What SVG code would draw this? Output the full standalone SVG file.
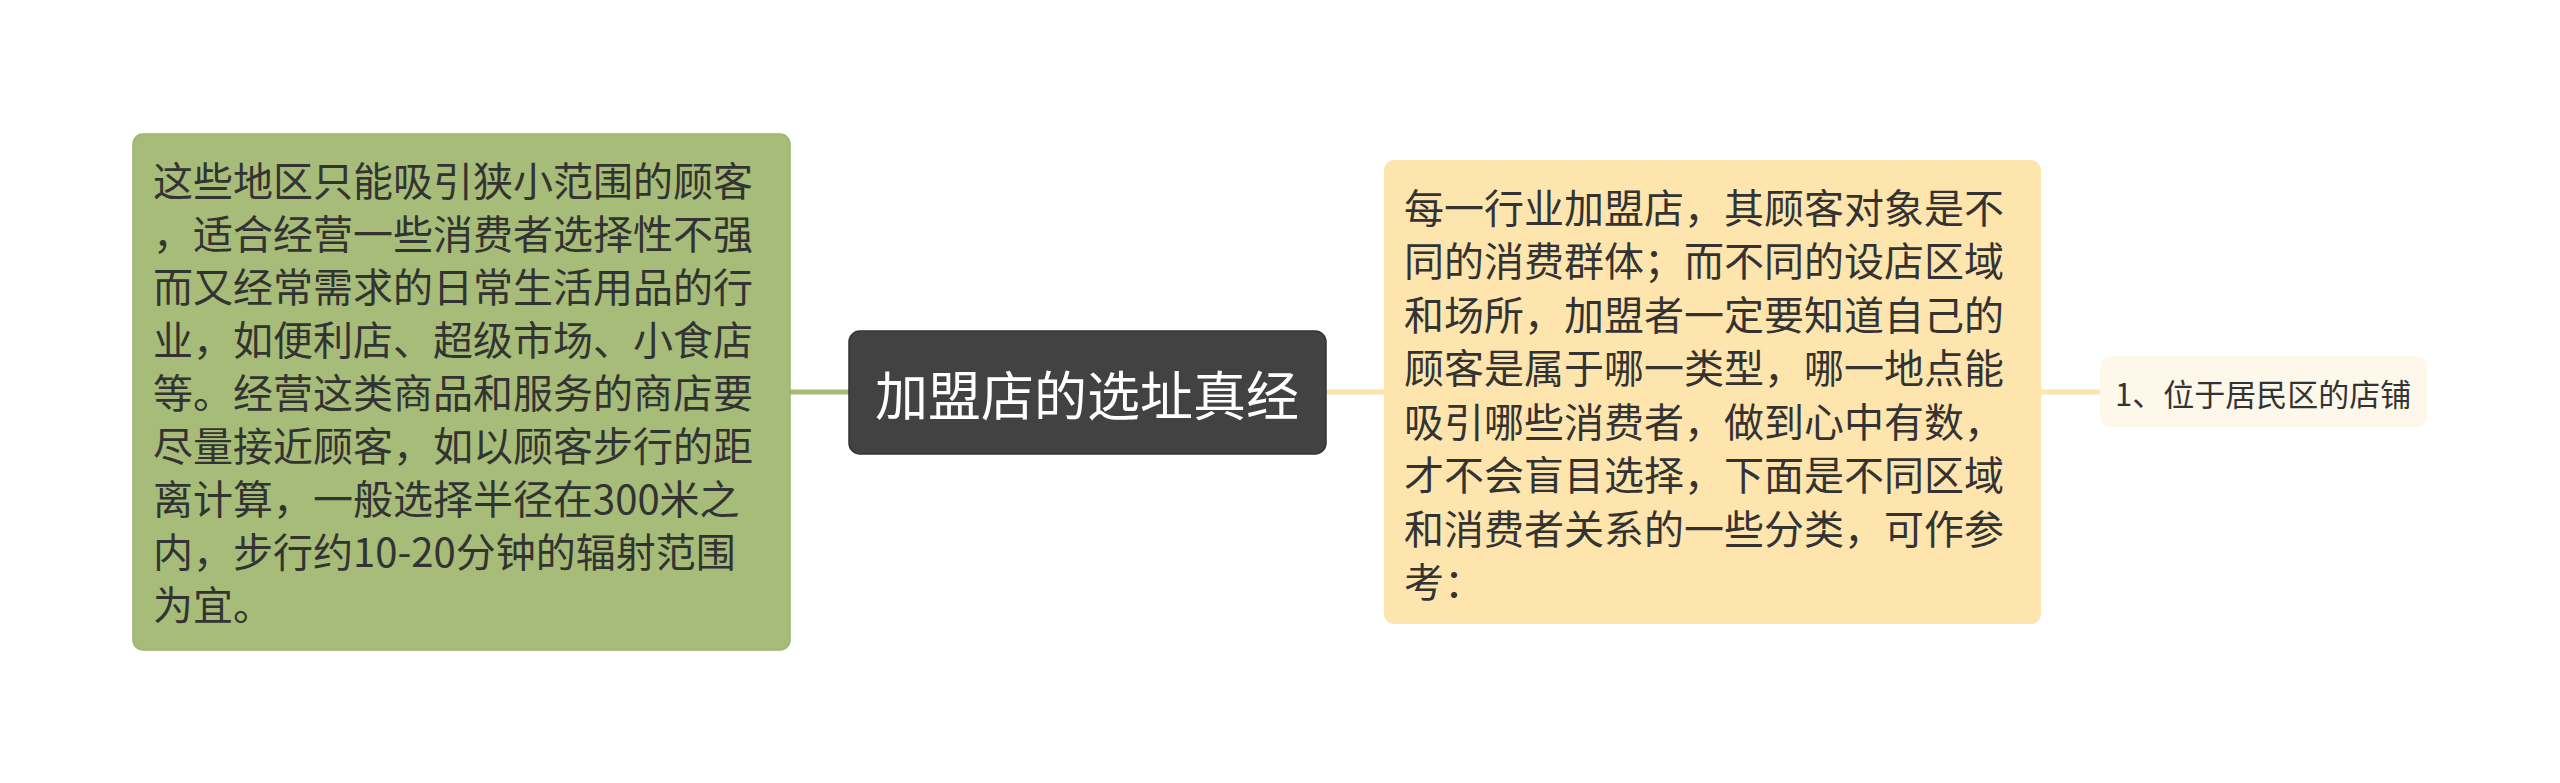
<svg xmlns="http://www.w3.org/2000/svg" width="2560" height="783" viewBox="0 0 2560 783">
<style>
.t{font-family:"Noto Sans CJK SC","Noto Sans",sans-serif;dominant-baseline:central;}
.body{font-size:40px;fill:#333333;}
.conn{fill:none;stroke-width:5;}
</style>
<rect x="0" y="0" width="2560" height="783" fill="#ffffff"/>
<g id="connectors">
<line class="conn" x1="790" y1="392" x2="850" y2="392" stroke="#a6bc78"/>
<line class="conn" x1="1325" y1="392" x2="1385" y2="392" stroke="#fde4ab"/>
<line class="conn" x1="2041" y1="392" x2="2101" y2="392" stroke="#fde4ab"/>
</g>
<g id="node-left">
<rect x="133" y="134" width="657" height="516" rx="10" fill="#a6bc78" stroke="#9cb46c" stroke-width="1.5"/>
<text class="t body" x="153">
<tspan x="153" y="179">这些地区只能吸引狭小范围的顾客</tspan>
<tspan x="153" y="232">，适合经营一些消费者选择性不强</tspan>
<tspan x="153" y="285">而又经常需求的日常生活用品的行</tspan>
<tspan x="153" y="338">业，如便利店、超级市场、小食店</tspan>
<tspan x="153" y="391">等。经营这类商品和服务的商店要</tspan>
<tspan x="153" y="444">尽量接近顾客，如以顾客步行的距</tspan>
<tspan x="153" y="497">离计算，一般选择半径在300米之</tspan>
<tspan x="153" y="550">内，步行约10-20分钟的辐射范围</tspan>
<tspan x="153" y="603">为宜。</tspan>
</text>
</g>
<g id="node-center">
<rect x="849" y="331" width="477" height="123" rx="11" fill="#424242" stroke="#333333" stroke-width="1.5"/>
<text class="t" x="1087" y="393" font-size="53" fill="#ffffff" text-anchor="middle">加盟店的选址真经</text>
</g>
<g id="node-right">
<rect x="1384" y="160" width="657" height="464" rx="10" fill="#fee5ae"/>
<text class="t body">
<tspan x="1404" y="206">每一行业加盟店，其顾客对象是不</tspan>
<tspan x="1404" y="259">同的消费群体；而不同的设店区域</tspan>
<tspan x="1404" y="313">和场所，加盟者一定要知道自己的</tspan>
<tspan x="1404" y="366">顾客是属于哪一类型，哪一地点能</tspan>
<tspan x="1404" y="420">吸引哪些消费者，做到心中有数，</tspan>
<tspan x="1404" y="473">才不会盲目选择，下面是不同区域</tspan>
<tspan x="1404" y="527">和消费者关系的一些分类，可作参</tspan>
<tspan x="1404" y="580">考：</tspan>
</text>
</g>
<g id="node-small">
<rect x="2100" y="356" width="327" height="71" rx="10" fill="#fdf8ea"/>
<text class="t" x="2115" y="392" font-size="31" fill="#333333">1、位于居民区的店铺</text>
</g>
</svg>
